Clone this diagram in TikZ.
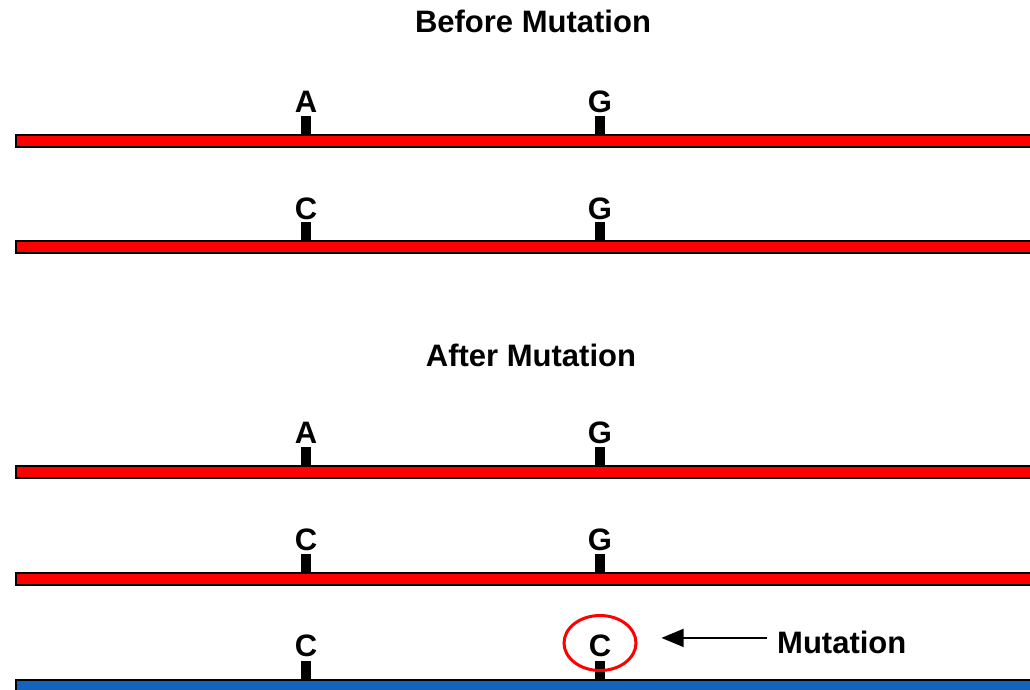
\documentclass[tikz,border=0pt]{standalone}
\usepackage{fontspec}
\setmainfont{Liberation Sans}
\usetikzlibrary{shapes.geometric,arrows.meta}
\definecolor{strandred}{RGB}{255,0,0}
\definecolor{strandblue}{RGB}{18,98,190}
\begin{document}
\begin{tikzpicture}[x=1pt,y=-1pt,
  strand/.style={draw=black, line width=2pt, fill=strandred, anchor=north west,
    minimum width=1030pt, minimum height=12pt, inner sep=0pt},
  bluestrand/.style={strand, fill=strandblue},
  stem/.style={fill=black, anchor=south, minimum width=10pt, minimum height=18pt, inner sep=0pt},
  lbl/.style={font=\bfseries\fontsize{31}{31}\selectfont, anchor=base, inner sep=0pt},
  ring/.style={ellipse, draw=strandred, line width=3pt, minimum width=72pt, minimum height=55pt, inner sep=0pt},
  pointer/.style={line width=1.5pt, -{Triangle[length=22pt,width=18pt]}}]
\useasboundingbox (0,0) rectangle (1030,690);

% headings
\node[lbl] (before) at (533,33) {Before Mutation};
\node[lbl] (after) at (531,366) {After Mutation};

% strands before the mutation
\node[strand] (s1) at (15,134) {};
\node[stem] (k1a) at (306,134) {};
\node[stem] (k1b) at (600,134) {};
\node[lbl] (b1a) at (306,113) {A};
\node[lbl] (b1b) at (600,113) {G};

\node[strand] (s2) at (15,240) {};
\node[stem] (k2a) at (306,240) {};
\node[stem] (k2b) at (600,240) {};
\node[lbl] (b2a) at (306,219) {C};
\node[lbl] (b2b) at (600,219) {G};

% strands after the mutation
\node[strand] (s3) at (15,465) {};
\node[stem] (k3a) at (306,465) {};
\node[stem] (k3b) at (600,465) {};
\node[lbl] (b3a) at (306,443) {A};
\node[lbl] (b3b) at (600,443) {G};

\node[strand] (s4) at (15,572) {};
\node[stem] (k4a) at (306,572) {};
\node[stem] (k4b) at (600,572) {};
\node[lbl] (b4a) at (306,550) {C};
\node[lbl] (b4b) at (600,550) {G};

\node[bluestrand] (s5) at (15,679) {};
\node[stem] (k5a) at (306,679) {};
\node[stem] (k5b) at (600,679) {};
\node[lbl] (b5a) at (306,656) {C};
\node[lbl] (b5b) at (600,656) {C};

% highlighted base and its label
\node[ring] (ell) at (600,643) {};
\node[lbl, anchor=base west] (mut) at (777,653) {Mutation};
\coordinate (tail) at ([yshift=4pt]mut.west);
\draw[pointer, shorten <=10pt, shorten >=24pt] (tail) -- (ell.east |- tail);
\end{tikzpicture}
\end{document}
